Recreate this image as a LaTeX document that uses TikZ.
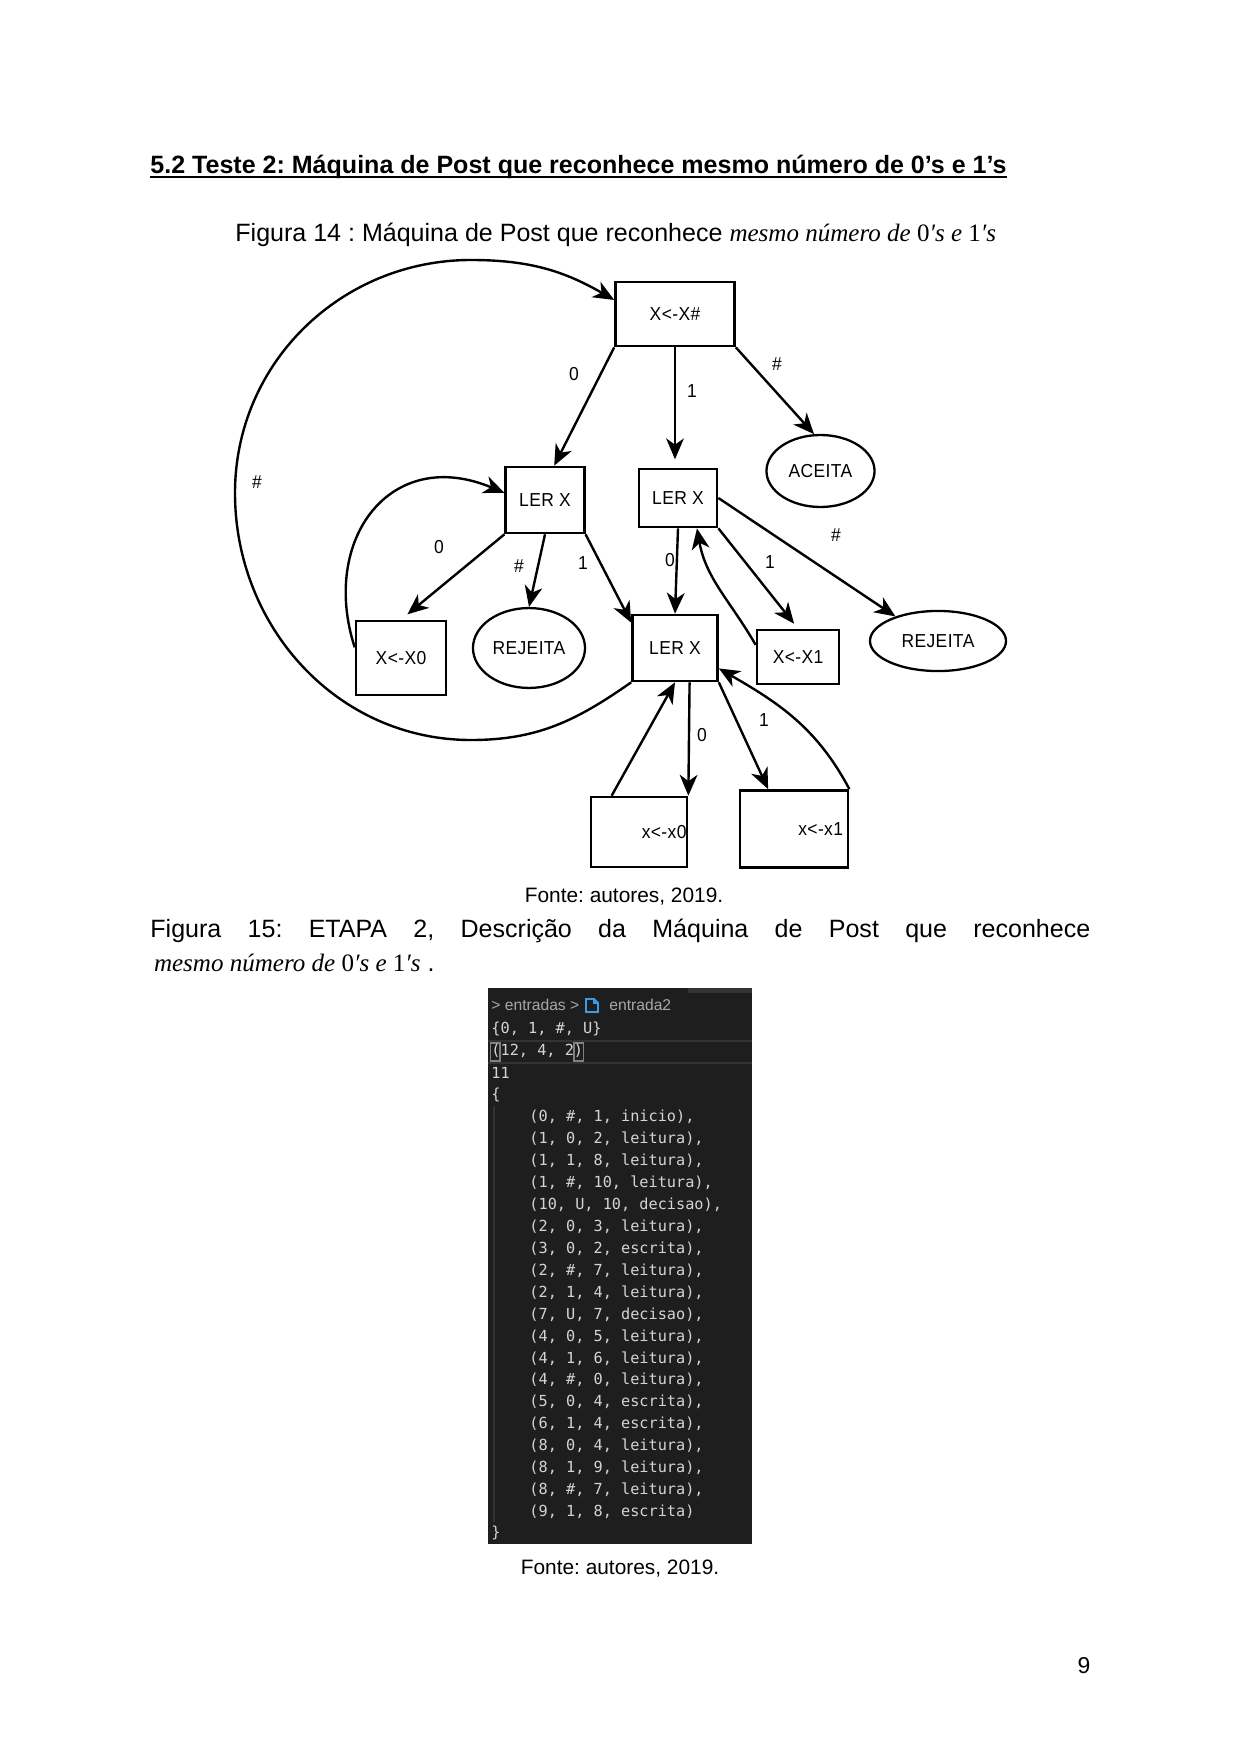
\documentclass[tikz,border=0pt]{standalone}
\usepackage{fontspec}
\setmainfont{Liberation Sans}
\newfontfamily\diafont[FakeStretch=0.93,LetterSpace=2]{Liberation Sans}
\newfontfamily\serifmat{Liberation Serif}
\newfontfamily\codefont{DejaVu Sans Mono}
\usetikzlibrary{arrows.meta,shapes.geometric}
\definecolor{codebg}{HTML}{1E1E1E}
\definecolor{codefg}{HTML}{D4D4D4}
\definecolor{codedim}{HTML}{A8A8A8}
\definecolor{codeline}{HTML}{333333}
\definecolor{iconblue}{HTML}{3C9BE6}
\frenchspacing
\newcommand{\mesmonum}{{\serifmat\itshape mesmo número de }{\serifmat 0}{\serifmat\itshape ′s e }{\serifmat 1}{\serifmat\itshape ′s}}
\tikzset{
  texto/.style={inner sep=0pt, anchor=base west},
  estado/.style={draw, line width=1.3pt, inner sep=0pt, font=\diafont\fontsize{9}{10}\selectfont},
  fim/.style={estado, ellipse, line width=1.1pt},
  seta/.style={-{Stealth[length=10pt,width=8.5pt,inset=3pt]}, line width=1.15pt},
  rot/.style={inner sep=0pt, font=\diafont\fontsize{9}{10}\selectfont},
  codigo/.style={anchor=west, inner sep=0pt, text=codefg, font=\codefont\fontsize{7.3}{9}\selectfont},
}
\begin{document}
\begin{tikzpicture}[x=0.4793pt,y=0.4793pt]
\useasboundingbox (0,0) rectangle (1242,-1757);
\fill[white] (0,0) rectangle (1242,-1757);

\node[texto, font=\bfseries\fontsize{12}{14}\selectfont] (titulo) at (150,-173.7)
  {5.2 Teste 2: Máquina de Post que reconhece mesmo número de 0’s e 1’s};
\draw[line width=0.9pt] ([yshift=-1.6pt]titulo.base west) -- ([yshift=-1.6pt]titulo.base east);
\node[texto, font=\fontsize{12}{14}\selectfont] (fig14) at (235,-242)
  {Figura 14 : Máquina de Post que reconhece \mesmonum};

% diagrama
\node[estado, minimum width=57pt, minimum height=30.7pt] (T) at (675,-314) {X<-X\#};
\node[estado, minimum width=37.6pt, minimum height=31.6pt] (A) at (545,-500) {LER X};
\node[estado, minimum width=37.4pt, minimum height=27.8pt] (B) at (678,-498) {LER X};
\node[fim, minimum width=51.8pt, minimum height=34.5pt] (aceita) at (820.5,-471) {ACEITA};
\node[estado, minimum width=43.1pt, minimum height=35.5pt] (xz) at (401,-658) {X<-X0};
\node[fim, minimum width=53.7pt, minimum height=38.3pt] (rej1) at (529,-648) {REJEITA};
\node[estado, minimum width=40.7pt, minimum height=31.6pt] (C) at (675,-648) {LER X};
\node[estado, minimum width=39.3pt, minimum height=25.9pt] (xu) at (798,-657) {X<-X1};
\node[fim, minimum width=65.2pt, minimum height=28.8pt] (rej2) at (938,-641) {REJEITA};
\node[estado, minimum width=46pt, minimum height=33.5pt, text width=45.5pt, align=right] (xzb) at (639,-832) {x<-x0\\[4pt]};
\node[estado, minimum width=51.8pt, minimum height=36.9pt, text width=47pt, align=right] (xub) at (794,-829) {x<-x1\\[5pt]};

\coordinate (laco1) at (471,-740);
\coordinate (laco2) at (235,-493);
\coordinate (laco3) at (471,-260);

\draw[seta] (T.south west) -- (A.75);
\draw[seta, shorten >=4pt] (T.south) -- (T.south |- B.north);
\draw[seta] (T.south east) -- (aceita.100);
\draw[seta] (C.south west) to[out=215,in=0] (laco1) to[out=180,in=270] (laco2)
  to[out=90,in=180] (laco3) to[out=0,in=150] (T.167);
\draw[seta, shorten >=4pt] (A.south west) -- (xz.north);
\draw[seta] (A.south) -- (rej1.north);
\draw[seta] (A.south east) -- (C.150);
\draw[seta] (xz.167) .. controls (320,-540) and (390,-445) .. (A.170);
\draw[seta] (B.south) -- (C.north);
\draw[seta, shorten >=3pt] (B.south east) -- (xu.north);
\draw[seta] (xu.164) to[out=120,in=-80] (B.302);
\draw[seta] (B.east) -- (rej2.150);
\draw[seta] (C.293) -- (xzb.north east);
\draw[seta] (xzb.127) -- (C.south);
\draw[seta] (C.south east) -- (xub.123);
\draw[seta] (xub.north east) to[out=118,in=-30] (C.335);

\node[rot] (r1) at (574,-374) {0};
\node[rot] (r2) at (692,-391) {1};
\node[rot] (r3) at (777,-364) {\#};
\node[rot] (r4) at (257,-482) {\#};
\node[rot] (r5) at (439,-547) {0};
\node[rot] (r6) at (519,-566) {\#};
\node[rot] (r7) at (583,-563) {1};
\node[rot] (r8) at (670,-560) {0};
\node[rot] (r9) at (770,-562) {1};
\node[rot] (r10) at (836,-535) {\#};
\node[rot] (r11) at (702,-735) {0};
\node[rot] (r12) at (764,-720) {1};

\node[texto, anchor=base, font=\fontsize{10}{12}\selectfont] (fonte1) at (624,-902) {Fonte: autores, 2019.};
\node[texto, font=\fontsize{12}{14}\selectfont] (fig15) at (150,-937)
  {\makebox[450.5pt][s]{Figura 15: ETAPA 2, Descrição da Máquina de Post que reconhece}};
\node[texto, font=\fontsize{12}{14}\selectfont] (fig15b) at (153.6,-971) {\mesmonum\ .};

% imagem do codigo
\fill[codebg] (488,-988) rectangle (752,-1544);
\fill[codeline] (688,-988) rectangle (752,-993);
\draw[codeline, line width=0.8pt] (488,-1041) -- (752,-1041);
\draw[codeline, line width=0.8pt] (488,-1063) -- (752,-1063);
\draw[gray, line width=0.5pt] (490.5,-1043) rectangle (500,-1061);
\draw[gray, line width=0.5pt] (574,-1043) rectangle (583.5,-1061);
\draw[codeline, line width=0.6pt] (494,-1106) -- (494,-1522);
\node[anchor=west, inner sep=0pt, text=codedim, font=\fontsize{7.5}{9}\selectfont] (caminho) at (491,-1005) {> entradas >};
\draw[iconblue, line width=0.9pt] (586,-999) -- (594,-999) -- (598,-1003) -- (598,-1012) -- (586,-1012) -- cycle;
\draw[iconblue, line width=0.6pt] (594,-999) -- (594,-1003) -- (598,-1003);
\node[anchor=west, inner sep=0pt, text=codedim, font=\fontsize{7.5}{9}\selectfont] (arquivo) at (609,-1005) {entrada2};
\foreach \linha [count=\i from 0] in {{\{0, 1, \#, U\}}, {(12, 4, 2)}, {11}, {\{}}
  \node[codigo] (cab\i) at (491,{-1029-21.95*\i}) {\linha};
\foreach \tupla [count=\i from 4] in {{(0, \#, 1, inicio),}, {(1, 0, 2, leitura),}, {(1, 1, 8, leitura),},
  {(1, \#, 10, leitura),}, {(10, U, 10, decisao),}, {(2, 0, 3, leitura),}, {(3, 0, 2, escrita),},
  {(2, \#, 7, leitura),}, {(2, 1, 4, leitura),}, {(7, U, 7, decisao),}, {(4, 0, 5, leitura),},
  {(4, 1, 6, leitura),}, {(4, \#, 0, leitura),}, {(5, 0, 4, escrita),}, {(6, 1, 4, escrita),},
  {(8, 0, 4, leitura),}, {(8, 1, 9, leitura),}, {(8, \#, 7, leitura),}, {(9, 1, 8, escrita)}}
  \node[codigo] (tup\i) at (529,{-1029-21.95*\i}) {\tupla};
\node[codigo] (fecha) at (491,-1533) {\}};

\node[texto, anchor=base, font=\fontsize{10}{12}\selectfont] (fonte2) at (620,-1574) {Fonte: autores, 2019.};
\node[texto, anchor=base, font=\fontsize{11}{13}\selectfont] (pagina) at (1084,-1673) {9};
\end{tikzpicture}
\end{document}
